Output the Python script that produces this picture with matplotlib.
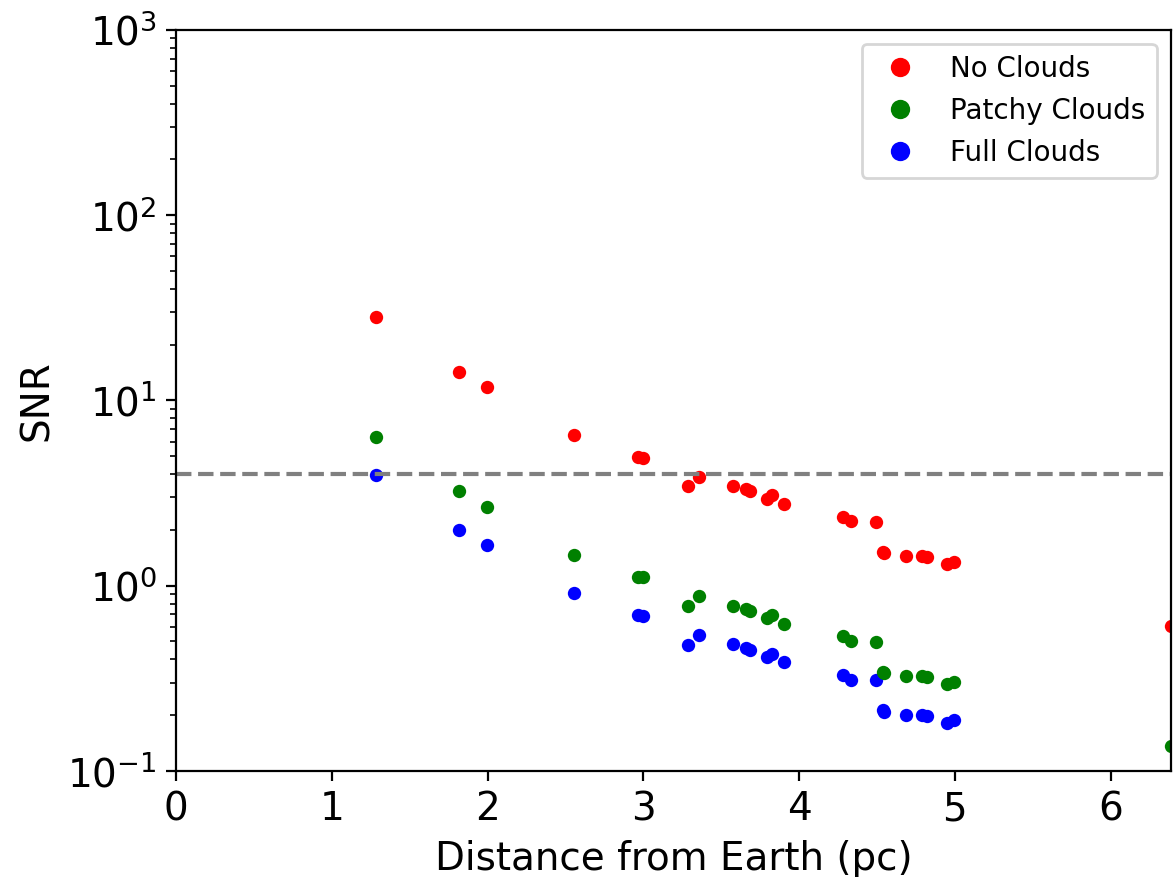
import numpy as np
import matplotlib
matplotlib.use("Agg")
import matplotlib.pyplot as plt

# distance to each target (pc) and SNR for the three cloud cases
distance = [1.285, 1.817, 1.997, 2.556, 2.965, 2.997, 3.287, 3.357, 3.576,
            3.661, 3.687, 3.794, 3.828, 3.906, 4.283, 4.336, 4.495, 4.537,
            4.544, 4.685, 4.786, 4.823, 4.947, 4.996, 6.386]
snr_none = [28.1, 14.3, 11.8, 6.51, 4.94, 4.92, 3.44, 3.88, 3.45,
            3.32, 3.23, 2.95, 3.08, 2.76, 2.36, 2.23, 2.21, 1.52,
            1.50, 1.44, 1.44, 1.43, 1.31, 1.34, 0.607]
snr_patchy = [6.38, 3.24, 2.66, 1.47, 1.12, 1.11, 0.780, 0.877, 0.780,
              0.746, 0.733, 0.667, 0.692, 0.624, 0.533, 0.503, 0.499, 0.344,
              0.337, 0.326, 0.326, 0.321, 0.294, 0.302, 0.137]
snr_full = [3.95, 2.00, 1.65, 0.914, 0.695, 0.687, 0.481, 0.545, 0.483,
            0.459, 0.452, 0.414, 0.430, 0.388, 0.330, 0.311, 0.309, 0.213,
            0.209, 0.200, 0.200, 0.199, 0.182, 0.188, 0.085]
snr_cut = 4

series = [(snr_none, "r", "No Clouds"),
          (snr_patchy, "g", "Patchy Clouds"),
          (snr_full, "b", "Full Clouds")]

fig = plt.figure(figsize=(1173 / 200, 877 / 200), dpi=200)
ax = fig.add_axes([0.1503, 0.1209, 0.8477, 0.8449])

# one target at a time, like the original loop
for i, d in enumerate(distance):
    for vals, col, lab in series:
        ax.plot(d, vals[i], "o", color=col, ms=4.8, mew=0,
                label=lab if i == 0 else None)

ax.axhline(snr_cut, color="grey", ls="--", lw=1.5)

ax.set_yscale("log")
ax.set_ylim(1e-1, 1e3)
ax.set_xlim(0, max(distance))
ax.set_xlabel("Distance from Earth (pc)", fontsize=14)
ax.set_ylabel("SNR", fontsize=14)
ax.tick_params(labelsize=14)

ax.legend(loc="upper right", numpoints=1, markerscale=1.45, fontsize=10)

fig.savefig("out.png", dpi=200)
